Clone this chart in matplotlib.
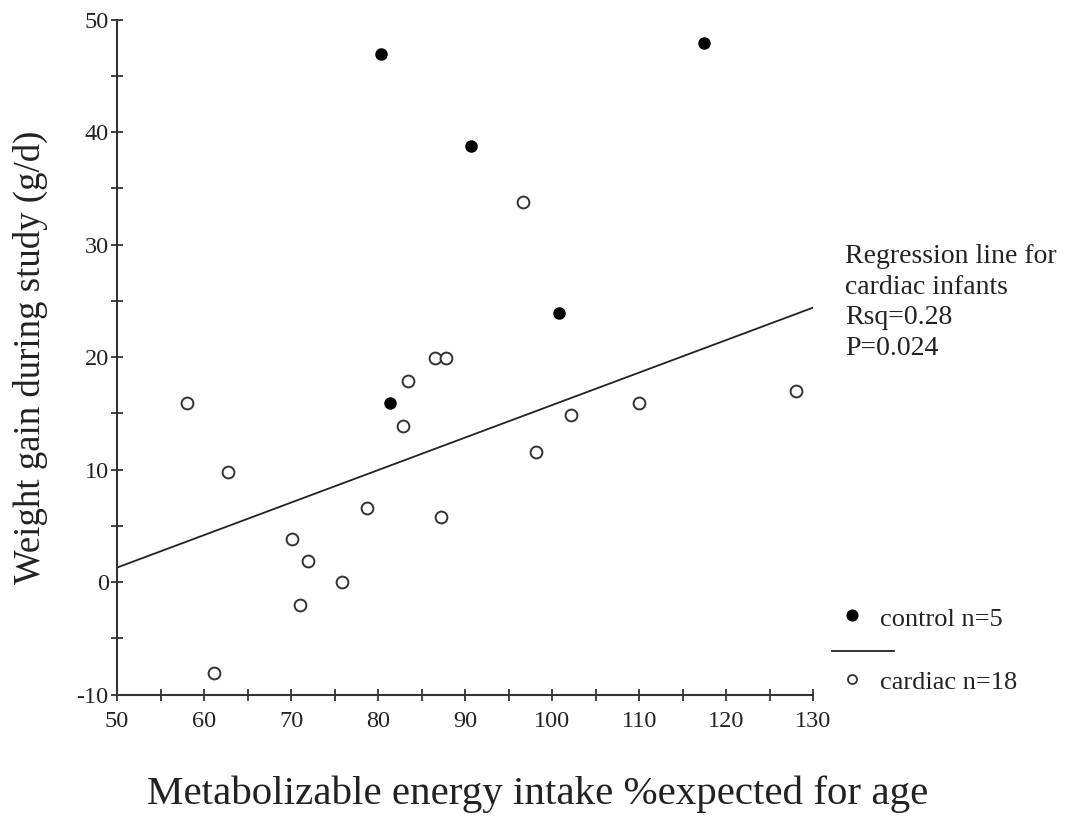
import numpy as np
import matplotlib.pyplot as plt
from matplotlib.lines import Line2D
from matplotlib.ticker import MultipleLocator, FuncFormatter

plt.rcParams['font.family'] = ['Liberation Serif', 'DejaVu Serif']

# control infants (filled)
control_x = [80.3, 81.4, 90.7, 100.8, 117.5]
control_y = [46.9, 15.9, 38.8, 23.9, 47.9]

# cardiac infants (open)
cardiac_x = [58.0, 61.2, 62.8, 70.1, 71.0, 71.9, 75.9, 78.7, 82.9,
             83.4, 86.6, 87.2, 87.8, 96.7, 98.1, 102.2, 110.0, 128.0]
cardiac_y = [15.9, -8.1, 9.8, 3.8, -2.0, 1.9, 0.0, 6.6, 13.9,
             17.9, 19.9, 5.8, 19.9, 33.8, 11.6, 14.9, 15.9, 17.0]

# regression line end points for cardiac group
reg_x = [50, 130]
reg_y = [1.3, 24.4]

fig = plt.figure(figsize=(10.67, 8.21), dpi=100)
ax = fig.add_axes([0.1097, 0.1538, 0.6523, 0.8224])

ax.plot(reg_x, reg_y, color='#222222', lw=1.3, zorder=1)
ax.plot(cardiac_x, cardiac_y, 'o', ls='none', ms=8.5, mfc='white',
        mec='#333333', mew=1.4, zorder=2)
ax.plot(control_x, control_y, 'o', ls='none', ms=8, mfc='black',
        mec='black', zorder=3)

ax.set_xlim(50, 130)
ax.set_ylim(-10, 50)
ax.xaxis.set_major_locator(MultipleLocator(10))
ax.xaxis.set_minor_locator(MultipleLocator(5))
ax.yaxis.set_major_locator(MultipleLocator(10))
ax.yaxis.set_minor_locator(MultipleLocator(5))
ax.yaxis.set_major_formatter(FuncFormatter(lambda v, p: '%d' % v))
for s in ['top', 'right']:
    ax.spines[s].set_visible(False)
for s in ['left', 'bottom']:
    ax.spines[s].set_linewidth(1.5)
    ax.spines[s].set_color('#333333')
ax.tick_params(which='both', direction='inout', length=8, width=1.3,
               color='#333333', labelsize=17.5, labelcolor='#222222')
ax.tick_params(axis='x', pad=8)
ax.tick_params(axis='y', pad=2)

ax.set_ylabel('Weight gain during study (g/d)', fontsize=26.5,
              color='#222222')
ax.yaxis.set_label_coords(-0.099, 0.5)
fig.text(538 / 1067, 1 - 794 / 821, 'Metabolizable energy intake %expected for age',
         fontsize=29.5, color='#222222', ha='center', va='center')

fig.text(845 / 1067, 1 - 244 / 821,
         'Regression line for\ncardiac infants\nRsq=0.28\nP=0.024',
         fontsize=20, color='#222222', ha='left', va='top', linespacing=1.3)

# legend block
fig.lines.append(Line2D([852 / 1067], [1 - 615 / 821], marker='o', ms=7.7,
                        mfc='black', mec='black', ls='none',
                        transform=fig.transFigure))
fig.text(880 / 1067, 1 - 626 / 821, 'control n=5', fontsize=19,
         color='#222222', ha='left', va='baseline')
fig.lines.append(Line2D([832 / 1067, 894 / 1067], [1 - 651 / 821, 1 - 651 / 821],
                        color='#222222', lw=1.3, transform=fig.transFigure))
fig.lines.append(Line2D([852 / 1067], [1 - 679 / 821], marker='o', ms=6.5,
                        mfc='white', mec='#333333', mew=1.3, ls='none',
                        transform=fig.transFigure))
fig.text(880 / 1067, 1 - 689 / 821, 'cardiac n=18', fontsize=19,
         color='#222222', ha='left', va='baseline')

fig.savefig('out.png', dpi=100)
